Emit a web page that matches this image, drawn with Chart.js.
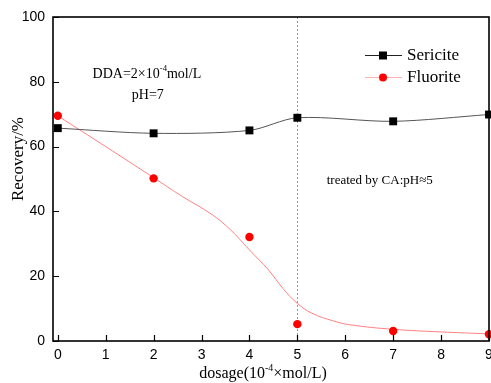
<!DOCTYPE html>
<html>
<head>
<meta charset="utf-8">
<script src="https://cdn.jsdelivr.net/npm/chart.js@4/dist/chart.umd.min.js"></script>
<style>
html,body{margin:0;padding:0;background:#fff;}
#wrap{width:491px;height:383px;position:relative;}
</style>
</head>
<body>
<div id="wrap"><canvas id="c" width="491" height="383"></canvas></div>
<script>
// ---- data ----
const dosage = [0, 2, 4, 5, 7, 9];
const sericite = [65.7, 64.1, 65.0, 68.9, 67.8, 69.9];
const fluorite = [69.5, 50.2, 32.1, 5.2, 3.1, 2.1];
const fitDosage = [0, 1, 2, 2.6, 3.2, 3.6, 4, 4.4, 4.7, 5, 5.3, 5.75, 6.1, 7, 8, 9];
const fluoriteFit = [69.5, 60, 50.4, 44.6, 39.2, 34.4, 28.1, 21.9, 16.2, 11.6, 8.6, 6.2, 5.0, 3.6, 2.8, 2.2];
const xTicks = [0, 1, 2, 3, 4, 5, 6, 7, 8, 9];
const yTicks = [0, 20, 40, 60, 80, 100];
const seriesNames = ['Sericite', 'Fluorite'];
const markerLine = 5;

const SERIF = '"Liberation Serif", "Times New Roman", serif';
const SANS = '"Liberation Sans", Arial, sans-serif';

function pts(xs, ys) { return xs.map((x, i) => ({x: x, y: ys[i]})); }

// draw text pieces with superscripts, centred on cx
function drawRich(ctx, pieces, cx, cy, size) {
  let w = 0;
  pieces.forEach(p => {
    ctx.font = (p.sup ? size * 0.62 : size) + 'px ' + SERIF;
    p.w = ctx.measureText(p.t).width; w += p.w;
  });
  let x = cx - w / 2;
  ctx.textAlign = 'left';
  ctx.textBaseline = 'middle';
  pieces.forEach(p => {
    ctx.font = (p.sup ? size * 0.62 : size) + 'px ' + SERIF;
    ctx.fillText(p.t, x, p.sup ? cy - size * 0.38 : cy);
    x += p.w;
  });
}

const decor = {
  id: 'decor',
  beforeDatasetsDraw(chart) {
    const ctx = chart.ctx, a = chart.chartArea;
    const xs = chart.scales.x, ys = chart.scales.y;
    ctx.save();
    // dotted vertical line at dosage 5
    const vx = Math.round(xs.getPixelForValue(markerLine)) + 0.5;
    ctx.strokeStyle = '#9a9a9a';
    ctx.lineWidth = 1;
    ctx.setLineDash([2, 2]);
    ctx.beginPath(); ctx.moveTo(vx, a.top); ctx.lineTo(vx, a.bottom); ctx.stroke();
    ctx.setLineDash([]);
    // annotations
    ctx.fillStyle = '#000';
    drawRich(ctx, [{t: 'DDA=2\u00d710'}, {t: '-4', sup: true}, {t: 'mol/L'}],
      xs.getPixelForValue(1.86), ys.getPixelForValue(82.4), 14);
    drawRich(ctx, [{t: 'pH=7'}], xs.getPixelForValue(1.88), ys.getPixelForValue(75.8), 14);
    drawRich(ctx, [{t: 'treated by CA:pH\u22485'}], xs.getPixelForValue(6.72), ys.getPixelForValue(49.4), 13);
    ctx.restore();
  },
  afterDraw(chart) {
    const ctx = chart.ctx, a = chart.chartArea;
    const xs = chart.scales.x, ys = chart.scales.y;
    ctx.save();
    // frame
    ctx.strokeStyle = '#000';
    ctx.lineWidth = 1.6;
    ctx.strokeRect(a.left, a.top, a.right - a.left, a.bottom - a.top);
    // inward ticks
    ctx.lineWidth = 1.2;
    ctx.beginPath();
    xTicks.forEach(v => {
      const px = Math.round(xs.getPixelForValue(v)) + 0.5;
      ctx.moveTo(px, a.bottom); ctx.lineTo(px, a.bottom - 6);
    });
    yTicks.forEach(v => {
      const py = Math.round(ys.getPixelForValue(v)) + 0.5;
      ctx.moveTo(a.left, py); ctx.lineTo(a.left + 6, py);
    });
    ctx.stroke();
    // x tick labels
    ctx.fillStyle = '#000';
    ctx.font = '14px ' + SANS;
    ctx.textAlign = 'center'; ctx.textBaseline = 'middle';
    xTicks.forEach(v => ctx.fillText(String(v), xs.getPixelForValue(v), a.bottom + 14));
    // legend
    const lx0 = 365, lx1 = 402, mx = 383, tx = 407;
    const ly = [55, 77];
    const lineCols = ['#222', '#ffb0b0'];
    ctx.lineWidth = 1;
    ly.forEach((y, i) => {
      ctx.strokeStyle = lineCols[i];
      ctx.beginPath(); ctx.moveTo(lx0, y + 0.5); ctx.lineTo(lx1, y + 0.5); ctx.stroke();
      if (i === 0) { ctx.fillStyle = '#000'; ctx.fillRect(mx - 4, y - 3.5, 8, 8); }
      else { ctx.fillStyle = '#ff0000'; ctx.beginPath(); ctx.arc(mx, y + 0.5, 4, 0, Math.PI * 2); ctx.fill(); }
      ctx.fillStyle = '#000';
      ctx.font = '17px ' + SERIF;
      ctx.textAlign = 'left'; ctx.textBaseline = 'middle';
      ctx.fillText(seriesNames[i], tx, y + 1);
    });
    // axis titles
    ctx.fillStyle = '#000';
    drawRich(ctx, [{t: 'dosage(10'}, {t: '-4', sup: true}, {t: '\u00d7mol/L)'}], 263, 374, 16);
    ctx.save();
    ctx.translate(19, 159);
    ctx.rotate(-Math.PI / 2);
    drawRich(ctx, [{t: 'Recovery/%'}], 0, 0, 17);
    ctx.restore();
    ctx.restore();
  }
};

Chart.defaults.font.family = SANS;
new Chart(document.getElementById('c'), {
  type: 'line',
  data: {
    datasets: [
      {
        label: seriesNames[0], data: pts(dosage, sericite),
        borderColor: '#555', borderWidth: 1, tension: 0.3,
        pointStyle: 'rect', pointRadius: 5.6, pointBackgroundColor: '#000', pointBorderWidth: 0,
        clip: false
      },
      {
        label: seriesNames[1], data: pts(dosage, fluorite), showLine: false,
        pointStyle: 'circle', pointRadius: 4.2, pointBackgroundColor: '#ff0000', pointBorderWidth: 0,
        borderColor: '#ff0000', clip: false
      },
      {
        label: 'fit', data: pts(fitDosage, fluoriteFit),
        borderColor: '#ff8080', borderWidth: 1, tension: 0.4,
        pointRadius: 0, clip: false
      }
    ]
  },
  options: {
    responsive: false, animation: false,
    layout: {autoPadding: false, padding: {top: 17, right: 2, left: 0, bottom: 0}},
    plugins: {legend: {display: false}, tooltip: {enabled: false}},
    scales: {
      x: {
        type: 'linear', min: -0.1, max: 9,
        grid: {display: false, drawTicks: false}, border: {display: false},
        ticks: {display: false},
        afterFit(s) { s.height = 42; s.paddingLeft = 0; s.paddingRight = 0; }
      },
      y: {
        min: 0, max: 100,
        grid: {display: false, drawTicks: false}, border: {display: false},
        afterBuildTicks(s) { s.ticks = yTicks.map(v => ({value: v})); },
        ticks: {color: '#000', font: {size: 14, family: SANS}, padding: 8},
        afterFit(s) { s.width = 53; s.paddingTop = 0; s.paddingBottom = 0; }
      }
    }
  },
  plugins: [decor]
});
</script>
</body>
</html>
